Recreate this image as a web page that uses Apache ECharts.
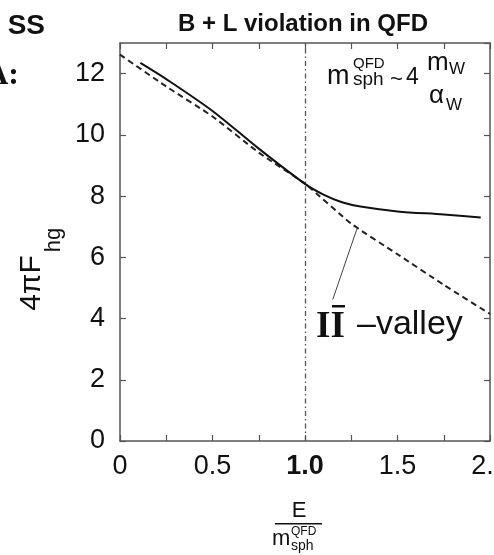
<!doctype html>
<html>
<head>
<meta charset="utf-8">
<script src="https://cdn.jsdelivr.net/npm/echarts@6/dist/echarts.min.js"></script>
<style>
  html, body { margin: 0; padding: 0; background: #fff; }
  #main { width: 494px; height: 555px; }
</style>
</head>
<body>
<div id="main"></div>
<script>
// labelled x ticks (minor ticks every 0.25)
var xLabels = [0, 0.5, 1, 1.5, 2];
// dashed curve: II-bar valley
var valleyX = [0, 0.25, 0.5, 0.75, 1.0, 1.25, 1.5, 1.75, 2.0];
var valleyY = [12.62, 11.58, 10.6, 9.42, 8.4, 7.1, 6.1, 5.1, 4.15];
// solid curve: QFD
var qfdX = [0.11, 0.25, 0.5, 0.75, 1.0, 1.1, 1.2, 1.3, 1.5, 1.75, 1.95];
var qfdY = [12.35, 11.82, 10.78, 9.55, 8.4, 8.05, 7.8, 7.66, 7.5, 7.4, 7.3];
// sphaleron line and leader of the valley label
var sphX = 1.0;
var leaderFrom = [1.28, 6.92];
var leaderTo = [1.15, 4.62];

var FONT = 'Liberation Sans';
var INK = '#111';
var AXIS = '#555';

function pairs(xs, ys) {
	var out = [];
	for (var i = 0; i < xs.length; i++) out.push([xs[i], ys[i]]);
	return out;
}

var myChart = echarts.init(document.getElementById('main'));

var frameAxisLine = { show: true, onZero: false, lineStyle: { color: AXIS, width: 1.5 } };
var frameTick = { show: true, inside: true, length: 6, lineStyle: { color: AXIS, width: 1.2 } };

var option = {
	backgroundColor: '#fff',
	animation: false,
	grid: { left: 120, right: 4, top: 43, bottom: 114, containLabel: false, outerBoundsMode: 'none' },
	xAxis: [{
		type: 'value', min: 0, max: 2, interval: 0.25, position: 'bottom',
		axisLine: frameAxisLine, axisTick: frameTick, splitLine: { show: false },
		axisLabel: {
			margin: 12, color: INK, fontSize: 27, fontFamily: FONT,
			formatter: function (v) {
				if (xLabels.indexOf(v) < 0) return '';
				if (v === 1) return '{b|1.0}';
				return v === 0 ? '0' : v.toFixed(1);
			},
			rich: { b: { fontSize: 27, fontWeight: 'bold', fontFamily: FONT, color: INK } }
		}
	}, {
		type: 'value', min: 0, max: 2, interval: 0.25, position: 'top',
		axisLine: frameAxisLine, axisTick: frameTick, splitLine: { show: false },
		axisLabel: { show: false }
	}],
	yAxis: [{
		type: 'value', min: 0, max: 13, interval: 2, position: 'left',
		axisLine: frameAxisLine, axisTick: frameTick, splitLine: { show: false },
		axisLabel: { margin: 15, color: INK, fontSize: 27, fontFamily: FONT, showMaxLabel: false }
	}, {
		type: 'value', min: 0, max: 13, interval: 2, position: 'right',
		axisLine: frameAxisLine, axisTick: frameTick, splitLine: { show: false },
		axisLabel: { show: false }
	}],
	series: [{
		name: 'valley',
		type: 'line',
		data: pairs(valleyX, valleyY),
		showSymbol: false,
		smooth: 0.2,
		lineStyle: { color: '#222', width: 2, type: [6, 4] },
		markLine: {
			silent: true, symbol: 'none', animation: false,
			label: { show: false },
			lineStyle: { color: '#444', width: 1, type: 'solid' },
			data: [[{ coord: leaderFrom }, { coord: leaderTo }]]
		}
	}, {
		name: 'QFD',
		type: 'line',
		data: pairs(qfdX, qfdY),
		showSymbol: false,
		smooth: 0.3,
		lineStyle: { color: INK, width: 2 },
		markLine: {
			silent: true, symbol: 'none', animation: false,
			label: { show: false },
			lineStyle: { color: '#555', width: 1.3, type: [5, 3, 1.5, 3] },
			data: [{ xAxis: sphX }]
		}
	}],
	graphic: [
		// slide fragments at the top left
		{ type: 'text', x: 45, y: 26, style: { text: 'SS', font: 'bold 28px "' + FONT + '"', fill: INK, align: 'right', verticalAlign: 'middle' } },
		{ type: 'text', x: 19, y: 76, style: { text: 'A:', font: 'bold 32px "Liberation Serif"', fill: INK, align: 'right', verticalAlign: 'middle' } },
		// title
		{ type: 'text', x: 303, y: 24, style: { text: 'B + L violation in QFD', font: 'bold 24px "' + FONT + '"', fill: INK, align: 'center', verticalAlign: 'middle' } },
		// formula m_sph^QFD ~ 4 m_W / alpha_W
		{ type: 'text', x: 327, y: 77, style: { text: 'm', font: '27px "' + FONT + '"', fill: INK, align: 'left', verticalAlign: 'middle' } },
		{ type: 'text', x: 353, y: 64, style: { text: 'QFD', font: '15px "' + FONT + '"', fill: INK, align: 'left', verticalAlign: 'middle' } },
		{ type: 'text', x: 353, y: 80, style: { text: 'sph', font: '19px "' + FONT + '"', fill: INK, align: 'left', verticalAlign: 'middle' } },
		{ type: 'text', x: 390, y: 80, style: { text: '~', font: '22px "' + FONT + '"', fill: INK, align: 'left', verticalAlign: 'middle' } },
		{ type: 'text', x: 406, y: 78, style: { text: '4', font: '23px "' + FONT + '"', fill: INK, align: 'left', verticalAlign: 'middle' } },
		{ type: 'text', x: 427, y: 63, style: { text: 'm', font: '26px "' + FONT + '"', fill: INK, align: 'left', verticalAlign: 'middle' } },
		{ type: 'text', x: 449, y: 69, style: { text: 'W', font: '17px "' + FONT + '"', fill: INK, align: 'left', verticalAlign: 'middle' } },
		{ type: 'text', x: 429, y: 96, style: { text: 'α', font: '26px "' + FONT + '"', fill: INK, align: 'left', verticalAlign: 'middle' } },
		{ type: 'text', x: 446, y: 105, style: { text: 'W', font: '17px "' + FONT + '"', fill: INK, align: 'left', verticalAlign: 'middle' } },
		// valley label
		{ type: 'text', x: 316, y: 327, style: { text: 'II', font: 'bold 37px "Liberation Serif"', fill: INK, align: 'left', verticalAlign: 'middle' } },
		{ type: 'rect', shape: { x: 332, y: 305, width: 13, height: 2.5 }, style: { fill: INK } },
		{ type: 'text', x: 357, y: 325, style: { text: '\u2013valley', font: '34px "' + FONT + '"', fill: INK, align: 'left', verticalAlign: 'middle' } },
		// y axis title 4πF_hg
		{ type: 'text', x: 32, y: 283, rotation: Math.PI / 2, style: { text: '4πF', font: '30px "' + FONT + '"', fill: INK, align: 'center', verticalAlign: 'middle' } },
		{ type: 'text', x: 54, y: 240, rotation: Math.PI / 2, style: { text: 'hg', font: '22px "' + FONT + '"', fill: INK, align: 'center', verticalAlign: 'middle' } },
		// x axis title E / m_sph^QFD
		{ type: 'text', x: 299, y: 511, style: { text: 'E', font: '22px "' + FONT + '"', fill: INK, align: 'center', verticalAlign: 'middle' } },
		{ type: 'rect', shape: { x: 275, y: 523, width: 47, height: 1.5 }, style: { fill: INK } },
		{ type: 'text', x: 272, y: 539, style: { text: 'm', font: '22px "' + FONT + '"', fill: INK, align: 'left', verticalAlign: 'middle' } },
		{ type: 'text', x: 291, y: 532, style: { text: 'QFD', font: '12px "' + FONT + '"', fill: INK, align: 'left', verticalAlign: 'middle' } },
		{ type: 'text', x: 291, y: 546, style: { text: 'sph', font: '14px "' + FONT + '"', fill: INK, align: 'left', verticalAlign: 'middle' } }
	]
};

myChart.setOption(option);
window.addEventListener('resize', function () { myChart.resize(); });
</script>
</body>
</html>
